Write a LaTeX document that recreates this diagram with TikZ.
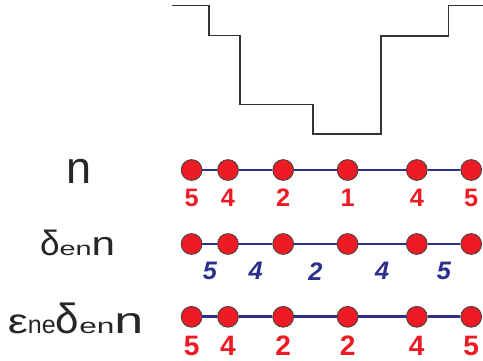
\documentclass[tikz,border=0pt]{standalone}
\usepackage{fontspec}
\usepackage{graphicx}
\setmainfont{Liberation Sans}
\usetikzlibrary{positioning}
\definecolor{siteRed}{RGB}{237,28,36}
\definecolor{bondBlue}{RGB}{44,48,140}
\newcommand{\fsz}[1]{\fontsize{#1}{#1}\selectfont}
\newcommand{\wide}[2]{\scalebox{#1}[1]{#2}}
\begin{document}
\begin{tikzpicture}[
  site/.style={circle,draw=black!75,line width=0.6pt,fill=siteRed,inner sep=0pt,minimum size=0.52cm},
  bond/.style={draw=bondBlue,line width=2pt},
  rednum/.style={text=siteRed,inner sep=0pt,font=\bfseries\fsz{18}},
  bluenum/.style={text=bondBlue,inner sep=0pt,font=\bfseries\itshape\fsz{18}},
  rowname/.style={anchor=base,inner sep=0pt,text=black!85}]
\useasboundingbox (0,0) rectangle (12.075,9);

% step profile
\draw[black!80,line width=0.8pt] (4.3,8.87) -- (5.225,8.87) -- (5.225,8.11)
  -- (6.0,8.11) -- (6.0,6.38) -- (7.825,6.38) -- (7.825,5.65) -- (9.525,5.65)
  -- (9.525,8.1) -- (11.22,8.1) -- (11.22,8.87) -- (12.075,8.87);

% sites
\foreach \r/\y in {a/4.75,b/2.9,c/1.08}
  \foreach \x [count=\i] in {4.79,5.7,7.08,8.69,10.42,11.78}
    \node[site] (\r\i) at (\x,\y) {};

% bonds
\foreach \i in {1,...,5} {
  \pgfmathtruncatemacro\j{\i+1}
  \draw[bond] (a\i) -- (a\j);
  \draw[bond] (c\i) -- (c\j);
}
\foreach \v [count=\i] in {5,4,2,4,5} {
  \pgfmathtruncatemacro\j{\i+1}
  \draw[bond,line width=1.7pt] (b\i) -- node[bluenum,below=0.43cm] (m\i) {\v} (b\j);
}

% numbers
\foreach \v [count=\i] in {5,4,2,1,4,5}
  \node[rednum,below=0.2cm of a\i] (na\i) {\v};
\foreach \v [count=\i] in {5,4,2,2,4,5}
  \node[rednum,font=\bfseries\fsz{20},below=0.2cm of c\i] (nc\i) {\v};

% row names
\node[rowname] (ra) at (1.975,4.417) {\fsz{32}n};
\node[rowname] (rb) at (1.94,2.625)
  {\fsz{25}δ\fsz{13.7}\wide{1.5}{en}\fsz{24}\wide{1.25}{n}};
\node[rowname] (rc) at (1.89,0.667)
  {\fsz{24.7}\wide{1.3}{ε}\fsz{17.8}ne\fsz{30}δ\fsz{15}\wide{1.5}{en}\fsz{26.4}\wide{1.4}{n}};
\end{tikzpicture}
\end{document}
